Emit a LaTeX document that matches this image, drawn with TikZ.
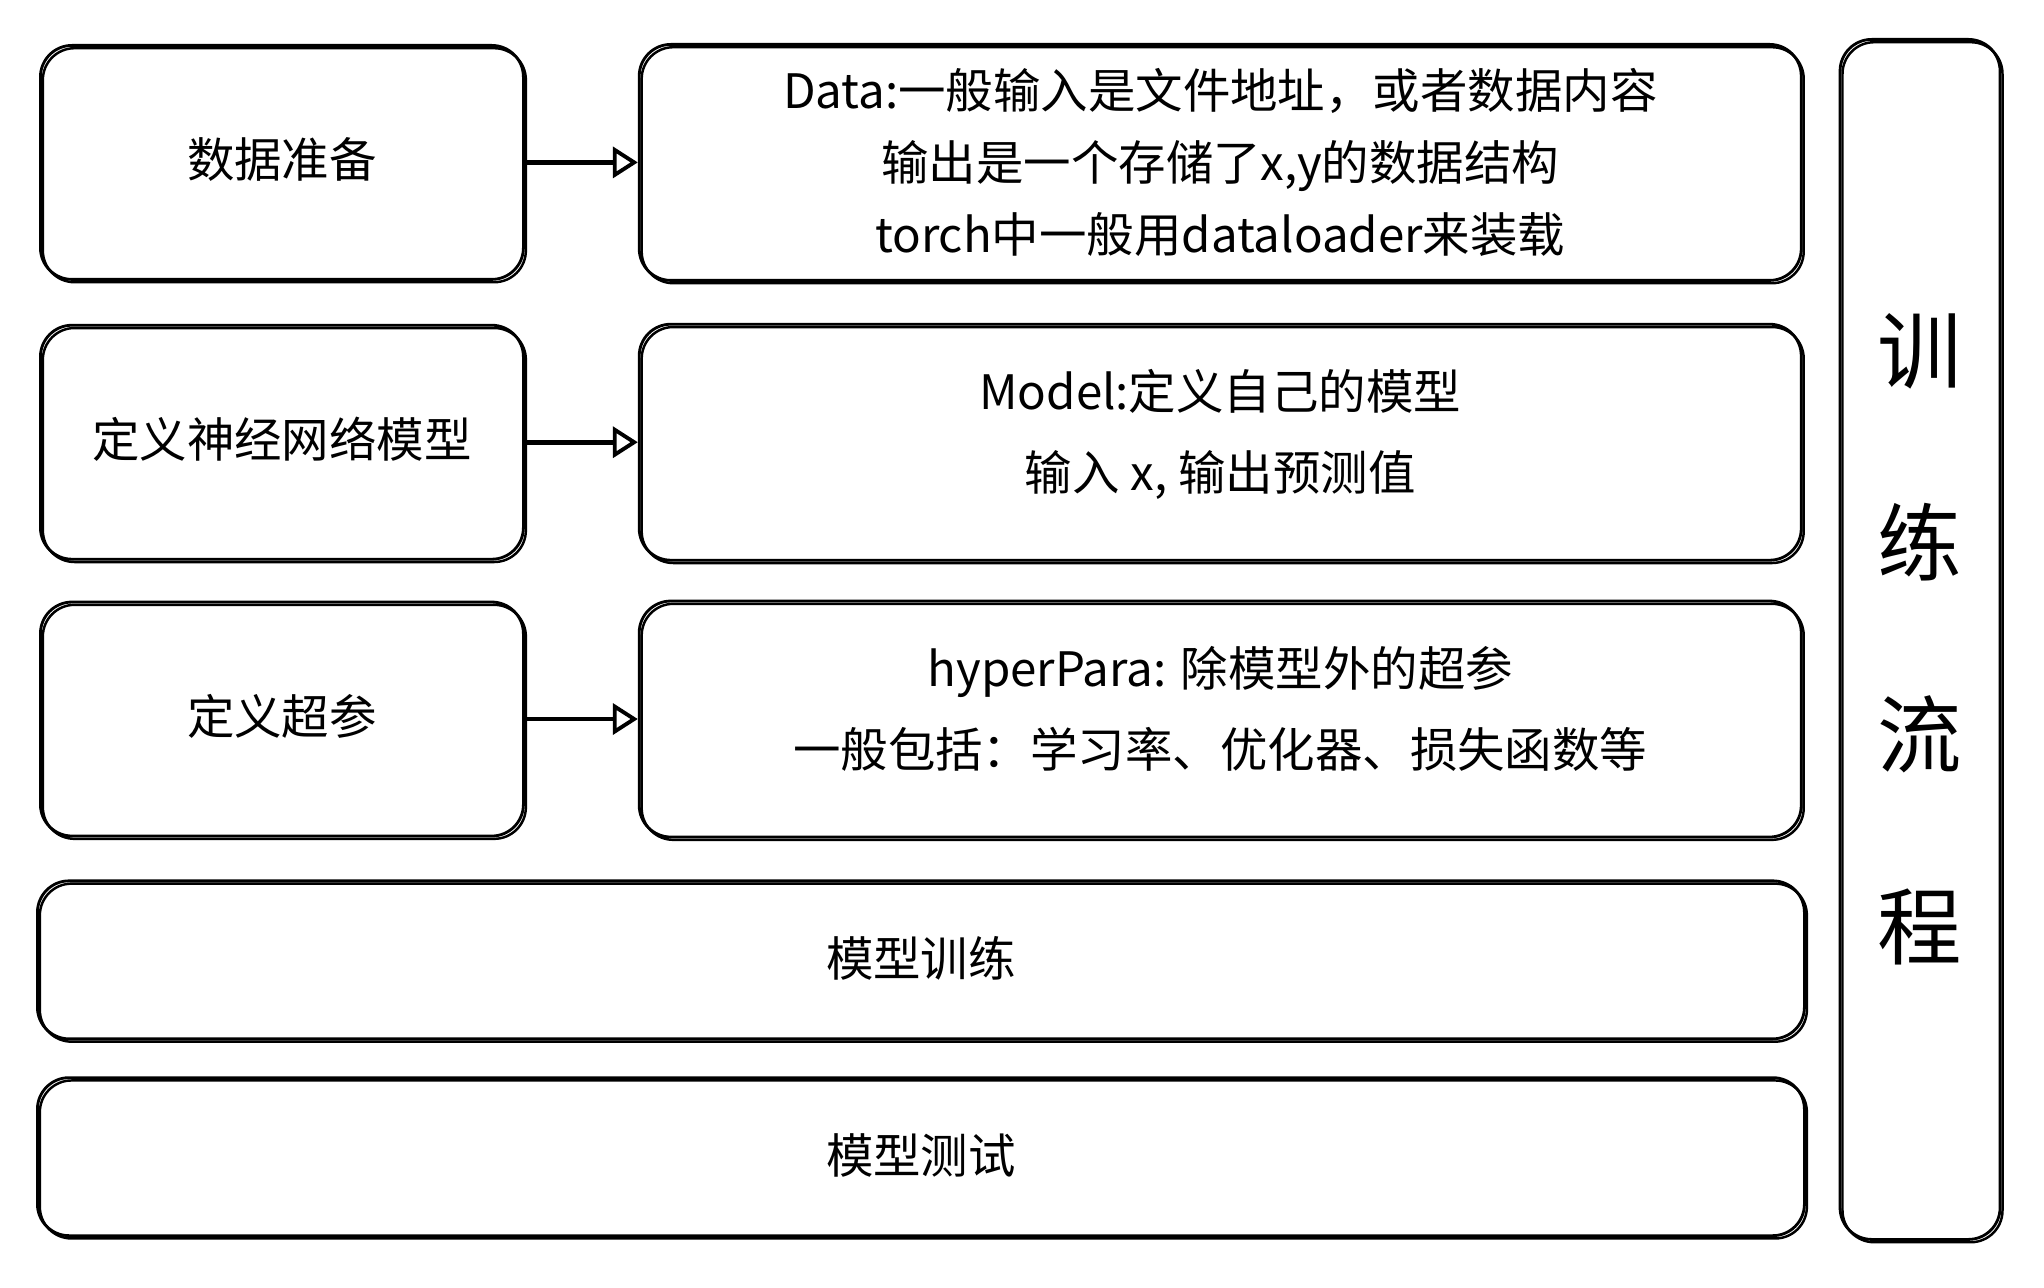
\documentclass[tikz,border=0pt]{standalone}
\usepackage{fontspec}
\setmainfont{Noto Sans CJK SC}
\usetikzlibrary{arrows.meta, positioning}

\begin{document}
\begin{tikzpicture}[
    node distance=0.4cm and 1.13cm,
    every node/.style={font=\fontsize{13.5}{20.5}\selectfont},
    sketch/.style={draw, line width=0.8pt, rounded corners=9pt, align=center,
        postaction={draw, line width=0.7pt, transform canvas={shift={(0.7pt,-0.8pt)}}}},
    leftbox/.style={sketch, minimum width=4.83cm, minimum height=2.34cm, text depth=0.09cm},
    infobox/.style={sketch, minimum width=11.62cm, minimum height=2.36cm},
    twoline/.style={font=\fontsize{13.5}{23}\selectfont, text depth=0.25cm},
    widebox/.style={sketch, minimum width=17.67cm, minimum height=1.58cm, text depth=0.06cm},
    arrow/.style={-{Triangle[open, length=2.5mm, width=3.1mm, line width=1.1pt]}, line width=1.3pt}
]
    \useasboundingbox (0,0) rectangle (20.44,-12.88);

    \node[leftbox, anchor=north west] (prep) at (0.39,-0.44) {数据准备};
    \node[infobox, right=of prep] (data) {Data:一般输入是文件地址，或者数据内容\\输出是一个存储了x,y的数据结构\\torch中一般用dataloader来装载};
    \node[leftbox, below=0.43cm of prep] (net) {定义神经网络模型};
    \node[infobox, twoline, right=of net] (model) {Model:定义自己的模型\\输入 x, 输出预测值};
    \node[leftbox, below=of net] (hyper) {定义超参};
    \node[infobox, twoline, right=of hyper] (para) {hyperPara: 除模型外的超参\\一般包括：学习率、优化器、损失函数等};
    \node[widebox, below=0.42cm of hyper.south west, anchor=north west, xshift=-0.03cm] (train) {模型训练};
    \node[widebox, below=0.36cm of train] (test) {模型测试};
    \node[sketch, right=0.36cm of data.north east, anchor=north west, yshift=0.05cm,
        minimum width=1.6cm, minimum height=12.0cm, font=\fontsize{24}{54.6}\selectfont] (flow) {训\\练\\流\\程};

    \draw[arrow] (prep) -- (data);
    \draw[arrow] (net) -- (model);
    \draw[arrow] (hyper) -- (para);
\end{tikzpicture}
\end{document}
